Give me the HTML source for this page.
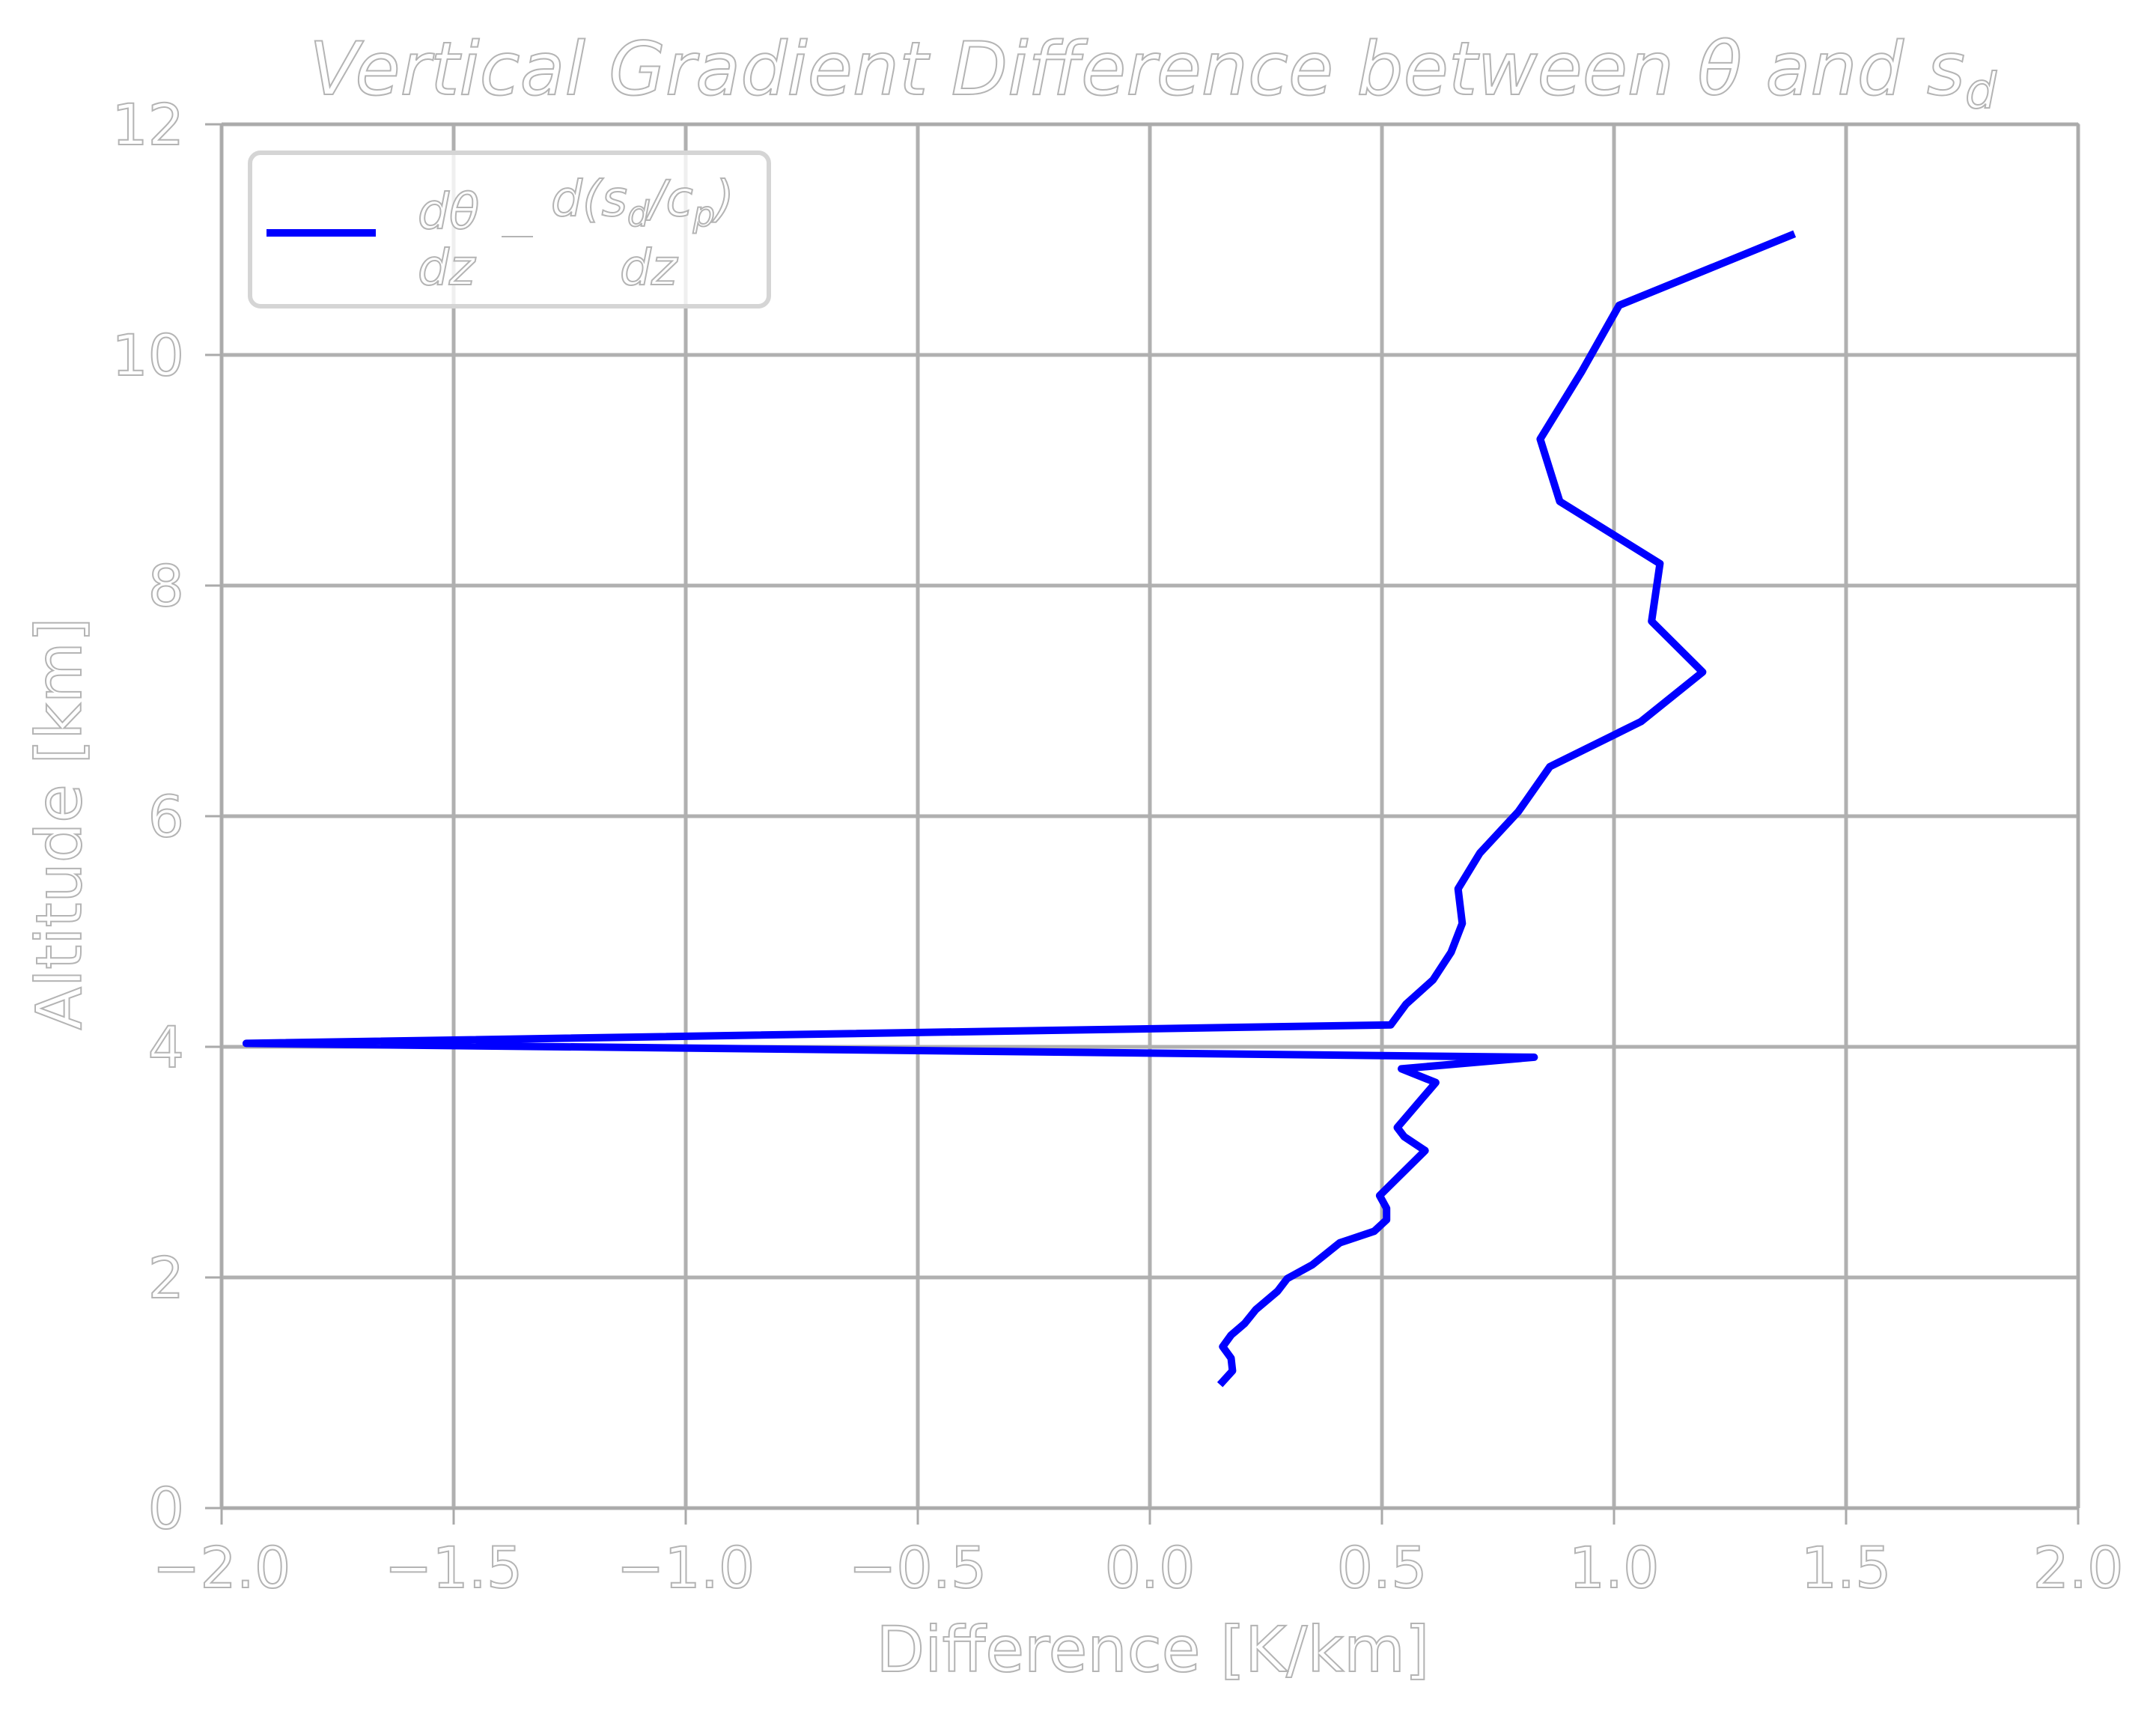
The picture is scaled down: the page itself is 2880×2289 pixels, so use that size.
<!DOCTYPE html>
<html><head><meta charset="utf-8"><style>
html,body{margin:0;padding:0;background:#fff}
svg{display:block}
text{font-family:"DejaVu Sans","Liberation Sans",sans-serif;fill:#fff;stroke:#b4b4b4;stroke-width:2}
</style></head><body>
<svg id="chart" xmlns="http://www.w3.org/2000/svg" width="2880" height="2289" viewBox="0 0 2880 2289">
<rect width="2880" height="2289" fill="#fff"/>
<g id="grid"></g>
<g id="ticks"></g>
<g id="series"></g>
<rect x="296" y="166" width="2480" height="1848" fill="none" stroke="#aaa" stroke-width="3"/>
<text x="1540" y="126" text-anchor="middle" font-size="98" font-style="italic">Vertical Gradient Difference between θ and s<tspan font-size="66" dy="18">d</tspan></text>
<text x="1540" y="2232" text-anchor="middle" font-size="84">Difference [K/km]</text>
<text transform="translate(108,1100) rotate(-90)" text-anchor="middle" font-size="84">Altitude [km]</text>
<g>
<rect x="334" y="204" width="693" height="205" rx="14" fill="#fff" fill-opacity="0.8" stroke="#d5d5d5" stroke-width="6"/>
<line x1="356" y1="311" x2="502" y2="311" stroke="#0000ff" stroke-width="10"/>
<text x="558" y="305" font-size="66" font-style="italic">dθ</text>
<text x="558" y="380" font-size="66" font-style="italic">dz</text>
<line x1="670" y1="316" x2="712" y2="316" stroke="#b4b4b4" stroke-width="2"/>
<text x="736" y="288" font-size="66" font-style="italic">d(s<tspan font-size="46" dy="14">d</tspan><tspan dy="-14">/c</tspan><tspan font-size="46" dy="14">p</tspan><tspan dy="-14">)</tspan></text>
<text x="828" y="380" font-size="66" font-style="italic">dz</text>
</g>
</svg>
<script>
const xTicks=[-2.0,-1.5,-1.0,-0.5,0.0,0.5,1.0,1.5,2.0];
const xTickLabels=["−2.0","−1.5","−1.0","−0.5","0.0","0.5","1.0","1.5","2.0"];
const yTicks=[0,2,4,6,8,10,12];
const yTickLabels=["0","2","4","6","8","10","12"];
const diffValues=[0.151,0.178,0.175,0.157,0.175,0.204,0.228,0.275,0.296,0.350,0.409,0.483,0.510,0.510,0.495,0.593,0.548,0.533,0.616,0.542,0.828,-1.947,0.519,0.552,0.610,0.649,0.673,0.664,0.711,0.794,0.862,1.058,1.191,1.081,1.099,0.883,0.841,0.931,1.011,1.389];
const altValues=[1.07,1.19,1.30,1.40,1.50,1.60,1.72,1.88,1.99,2.11,2.30,2.40,2.50,2.60,2.71,3.10,3.22,3.30,3.69,3.81,3.91,4.03,4.19,4.37,4.58,4.82,5.07,5.37,5.68,6.04,6.43,6.82,7.25,7.69,8.19,8.73,9.27,9.86,10.43,11.05];
const NS="http://www.w3.org/2000/svg";
const X0=296,X1=2776,Y0=2014,Y1=166;
const sx=v=>X0+(v-(-2))/4*(X1-X0);
const sy=v=>Y0-(v/12)*(Y0-Y1);
function mk(tag,attrs,parent){const e=document.createElementNS(NS,tag);for(const k in attrs)e.setAttribute(k,attrs[k]);parent.appendChild(e);return e;}
const grid=document.getElementById('grid'),ticks=document.getElementById('ticks'),series=document.getElementById('series');
xTicks.forEach((t,i)=>{
  const g=mk('line',{x1:sx(t),x2:sx(t),y1:Y1,y2:Y0,stroke:'#b0b0b0','stroke-width':5},grid);
  
  
  const tk=mk('line',{x1:sx(t),x2:sx(t),y1:Y0,y2:Y0+22,stroke:'#aaa','stroke-width':3},ticks);
  
  
  const tx=mk('text',{x:sx(t),y:2120,'text-anchor':'middle','font-size':76},ticks);
  tx.textContent=xTickLabels[i];
  
  
});
yTicks.forEach((t,i)=>{
  const g=mk('line',{x1:X0,x2:X1,y1:sy(t),y2:sy(t),stroke:'#b0b0b0','stroke-width':5},grid);
  
  
  const tk=mk('line',{x1:X0-22,x2:X0,y1:sy(t),y2:sy(t),stroke:'#aaa','stroke-width':3},ticks);
  
  
  const tx=mk('text',{x:246,y:sy(t)+27,'text-anchor':'end','font-size':76},ticks);
  tx.textContent=yTickLabels[i];
  
  
});
const pts=diffValues.map((d,i)=>sx(d).toFixed(1)+','+sy(altValues[i]).toFixed(1)).join(' ');
const pl=mk('polyline',{points:pts,fill:'none',stroke:'#0000ff','stroke-width':10,'stroke-linejoin':'round'},series);


</script>
</body></html>
